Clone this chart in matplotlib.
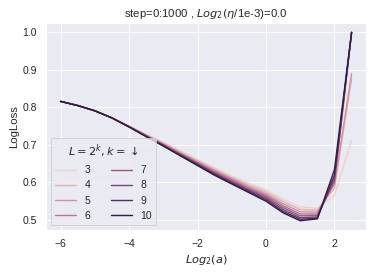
import matplotlib
matplotlib.use('Agg')
import matplotlib.pyplot as plt
import seaborn as sns

# x positions: log2 of the multiplier a
log2_a = [-6, -5.5, -5, -4.5, -4, -3.5, -3, -2.5, -2, -1.5, -1, -0.5, 0, 0.5, 1, 1.5, 2, 2.5]

# depth exponents, L = 2^k
ks = [3, 4, 5, 6, 7, 8, 9, 10]

# log loss, one list per k
loss_k3 = [0.816, 0.805, 0.791, 0.772, 0.750, 0.728, 0.707, 0.684, 0.661, 0.639, 0.617, 0.598, 0.580, 0.555, 0.535, 0.531, 0.566, 0.712]
loss_k4 = [0.816, 0.805, 0.791, 0.772, 0.750, 0.727, 0.705, 0.681, 0.658, 0.635, 0.613, 0.593, 0.575, 0.549, 0.528, 0.526, 0.585, 0.876]
loss_k5 = [0.816, 0.805, 0.791, 0.772, 0.749, 0.726, 0.703, 0.679, 0.655, 0.632, 0.610, 0.589, 0.570, 0.543, 0.522, 0.521, 0.595, 0.890]
loss_k6 = [0.816, 0.805, 0.791, 0.772, 0.749, 0.725, 0.701, 0.677, 0.653, 0.629, 0.607, 0.585, 0.566, 0.538, 0.516, 0.516, 0.600, 1.000]
loss_k7 = [0.816, 0.805, 0.791, 0.772, 0.749, 0.724, 0.700, 0.675, 0.651, 0.626, 0.604, 0.582, 0.562, 0.533, 0.511, 0.512, 0.605, 1.000]
loss_k8 = [0.816, 0.805, 0.791, 0.772, 0.748, 0.723, 0.699, 0.674, 0.649, 0.624, 0.601, 0.579, 0.558, 0.528, 0.506, 0.508, 0.612, 1.000]
loss_k9 = [0.816, 0.805, 0.791, 0.772, 0.748, 0.723, 0.698, 0.672, 0.647, 0.622, 0.598, 0.576, 0.554, 0.523, 0.502, 0.505, 0.620, 1.000]
loss_k10 = [0.816, 0.805, 0.791, 0.772, 0.748, 0.722, 0.697, 0.671, 0.645, 0.619, 0.596, 0.573, 0.550, 0.519, 0.498, 0.503, 0.634, 1.000]

losses = [loss_k3, loss_k4, loss_k5, loss_k6, loss_k7, loss_k8, loss_k9, loss_k10]

sns.set_theme(style='darkgrid')
plt.rcParams['font.family'] = ['Liberation Sans', 'DejaVu Sans']

# seaborn's default colormap for a numeric hue
cmap = sns.cubehelix_palette(as_cmap=True)

dpi = 68
fig = plt.figure(figsize=(374 / dpi, 273 / dpi), dpi=dpi)
ax = fig.add_axes([0.123, 0.157, 0.856, 0.759])

for k, loss in zip(ks, losses):
    ax.plot(log2_a, loss, color=cmap((k - ks[0]) / (ks[-1] - ks[0])), lw=1.5, label=str(k))

ax.set_xlabel(r'$Log_2(a)$')
ax.set_ylabel('LogLoss')
ax.set_title(r'step=0:1000 , $Log_2(\eta$/1e-3)=0.0')
ax.set_yticks([0.5, 0.6, 0.7, 0.8, 0.9, 1.0])
ax.legend(title=r'$L=2^k, k=\downarrow$', ncol=2, loc='lower left')

fig.savefig('out.png', dpi=dpi)
